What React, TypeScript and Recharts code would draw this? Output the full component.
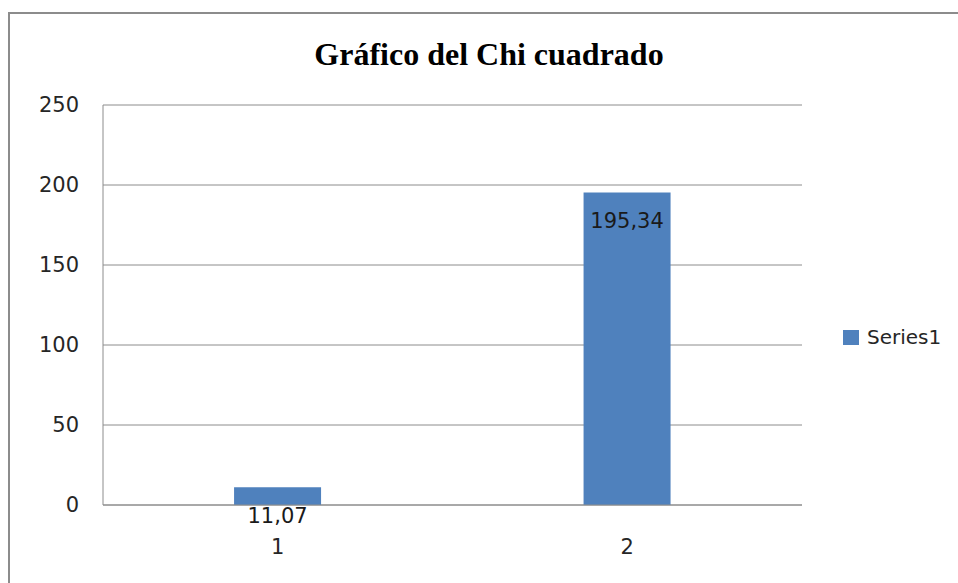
import { BarChart, Bar, XAxis, YAxis, CartesianGrid, LabelList } from "recharts"

const categories = ["1", "2"]
const series1 = [11.07, 195.34]
const yTicks = [0, 50, 100, 150, 200, 250]
const seriesName = "Series1"
const title = "Gráfico del Chi cuadrado"

const data = categories.map((c, i) => ({ cat: c, v: series1[i] }))

const font = "'DejaVu Sans', sans-serif"
const textColor = "#262626"
const barColor = "#4F81BD"
const gridColor = "#8c8c8c"

const fmt = (v: number) => v.toFixed(2).replace(".", ",")

const XTick = ({ x, y, payload }: any) => (
  <text x={x} y={y + 43} textAnchor="middle" dominantBaseline="middle" fontFamily={font} fontSize={21} fill={textColor}>
    {payload.value}
  </text>
)

const BarLabel = ({ x, y, width, value }: any) => (
  <text x={x + width / 2} y={y + 30} textAnchor="middle" dominantBaseline="middle" fontFamily={font} fontSize={21} fill="#1a1a1a">
    {fmt(value)}
  </text>
)

export default function App() {
  return (
    <div style={{ position: "absolute", left: 0, top: 0, width: 958, height: 583, overflow: "hidden", background: "#fff" }}>
      <div style={{ position: "absolute", left: 8, top: 12, width: 1000, height: 700, border: "2px solid #8c8c8c" }} />
      <div
        style={{
          position: "absolute", left: 0, width: 978, top: 36, textAlign: "center",
          fontFamily: "'Liberation Serif', serif", fontWeight: "bold", fontSize: 32, color: "#000",
        }}
      >
        {title}
      </div>
      <div style={{ position: "absolute", left: 843, top: 325, display: "flex", alignItems: "center", fontFamily: font, fontSize: 20, color: textColor }}>
        <span style={{ display: "inline-block", width: 16, height: 15, background: barColor, marginRight: 8 }} />
        {seriesName}
      </div>
      <div style={{ position: "absolute", left: 0, top: 0 }}>
        <BarChart width={958} height={583} data={data} margin={{ top: 105, right: 156, left: 0, bottom: 48 }} barCategoryGap="37.5%">
          <CartesianGrid vertical={false} stroke={gridColor} />
          <XAxis dataKey="cat" height={30} stroke={gridColor} tickLine={false} tickSize={0} tickMargin={0} tick={<XTick />} />
          <YAxis
            width={103}
            domain={[0, 250]}
            ticks={yTicks}
            stroke={gridColor}
            tickLine={false}
            tickSize={0}
            tickMargin={24}
            tick={{ fontFamily: font, fontSize: 21, fill: textColor }}
          />
          <Bar dataKey="v" name={seriesName} fill={barColor} isAnimationActive={false}>
            <LabelList dataKey="v" content={<BarLabel />} />
          </Bar>
        </BarChart>
      </div>
    </div>
  )
}
